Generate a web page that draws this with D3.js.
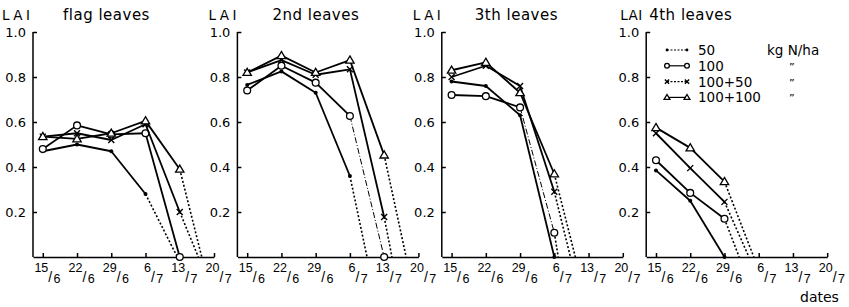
<!DOCTYPE html>
<html>
<head>
<meta charset="utf-8">
<script src="https://cdn.jsdelivr.net/npm/d3@7"></script>
<style>
  body { margin: 0; background: #fff; }
  svg { font-family: "DejaVu Sans", sans-serif; }
</style>
</head>
<body>
<svg id="chart" width="849" height="307"></svg>
<script>
// dates of sampling and the axis ticks
const dates = ["15/6", "22/6", "29/6", "6/7", "13/7"];
const tickDates = ["15/6", "22/6", "29/6", "6/7", "13/7", "20/7"];
const yTicks = [0.2, 0.4, 0.6, 0.8, 1.0];
const treatments = ["50", "100", "100+50", "100+100"];
const panelTitles = ["flag leaves", "2nd leaves", "3th leaves", "4th leaves"];

// LAI per treatment (order: 50, 100, 100+50, 100+100)
const flag50 = [0.47, 0.5, 0.47, 0.28];
const flag100 = [0.48, 0.585, 0.545, 0.55, 0];
const flag100p50 = [0.535, 0.55, 0.52, 0.59, 0.2];
const flag100p100 = [0.535, 0.525, 0.55, 0.605, 0.39];
const flagZero = ["12.5/7", null, "16.8/7", "17.5/7"];

const second50 = [0.765, 0.825, 0.73, 0.36];
const second100 = [0.74, 0.85, 0.775, 0.627, 0];
const second100p50 = [0.82, 0.875, 0.81, 0.834, 0.178];
const second100p100 = [0.82, 0.895, 0.82, 0.875, 0.453];
const secondZero = ["9.5/7", null, "14.6/7", "17.5/7"];

const third50 = [0.78, 0.76, 0.63, 0];
const third100 = [0.72, 0.715, 0.665, 0.108];
const third100p50 = [0.8, 0.85, 0.76, 0.29];
const third100p100 = [0.83, 0.865, 0.73, 0.369];
const thirdZero = [null, "6.8/7", "9.3/7", "10.3/7"];

const fourth50 = [0.385, 0.25, 0];
const fourth100 = [0.43, 0.285, 0.17];
const fourth100p50 = [0.55, 0.395, 0.245];
const fourth100p100 = [0.575, 0.485, 0.335];
const fourthZero = [null, "2/7", "4/7", "5/7"];

const panels = [
  { series: [flag50, flag100, flag100p50, flag100p100], zero: flagZero },
  { series: [second50, second100, second100p50, second100p100], zero: secondZero },
  { series: [third50, third100, third100p50, third100p100], zero: thirdZero },
  { series: [fourth50, fourth100, fourth100p50, fourth100p100], zero: fourthZero },
];

// segments drawn thin dash-dot in the original: [panel, treatment, segment index]
const thinSegments = [[1, 1, 3], [2, 1, 2]];

const toDate = (s) => {
  const [d, m] = s.split("/").map(parseFloat);
  return new Date(new Date(1980, m - 1, 1).getTime() + (d - 1) * 864e5);
};

const svg = d3.select("#chart");
const axisX0 = 33;
const panelStep = 204.4;
const panelW = 181;
const titleOffset = [30, 35, 33, 3];
const lblOffset = [-31, -29, -29, -26];

const y = d3.scaleLinear().domain([0, 1]).range([257, 32]);

const marker = (g, type, cx, cy, k = 1) => {
  if (type === 0) {
    g.append("circle").attr("cx", cx).attr("cy", cy).attr("r", 2 * k).attr("fill", "#000");
  } else if (type === 1) {
    g.append("circle").attr("cx", cx).attr("cy", cy).attr("r", 3.4 * k)
      .attr("fill", "#fff").attr("stroke", "#000").attr("stroke-width", 1.3);
  } else if (type === 2) {
    const s = 3 * k;
    g.append("path")
      .attr("d", `M${cx - s},${cy - s}L${cx + s},${cy + s}M${cx - s},${cy + s}L${cx + s},${cy - s}`)
      .attr("stroke", "#000").attr("stroke-width", 1.4);
  } else {
    const s = 4.2 * k;
    g.append("path")
      .attr("d", `M${cx},${cy - s}L${cx + s},${cy + s * 0.7}L${cx - s},${cy + s * 0.7}Z`)
      .attr("fill", "#fff").attr("stroke", "#000").attr("stroke-width", 1.3);
  }
};

panels.forEach((p, pi) => {
  const x0 = axisX0 + pi * panelStep;
  const x = d3.scaleTime().domain([toDate("13/6"), toDate("20/7")]).range([x0, x0 + panelW]);
  const g = svg.append("g");

  // axes
  const xAxis = d3.axisBottom(x)
    .tickValues(tickDates.map(toDate))
    .tickSize(-4)
    .tickSizeOuter(0)
    .tickFormat("");
  const gx = g.append("g").attr("transform", `translate(0,${y(0)})`).call(xAxis);
  gx.selectAll("path, line").attr("stroke", "#000").attr("stroke-width", 1.5);

  // fraction style date labels, e.g. 15/6 with 15 raised and 6 lowered
  gx.selectAll(".tick").each(function (d, i) {
    const [num, den] = tickDates[i].split("/");
    const t = d3.select(this).append("text").attr("fill", "#000").attr("font-size", 12.5);
    t.append("tspan").attr("x", 5).attr("y", 15).attr("text-anchor", "end").text(num);
    t.append("tspan").attr("x", 5).attr("y", 25).attr("text-anchor", "start")
      .attr("font-size", 14).text("/");
    t.append("tspan").attr("x", 10.3).attr("y", 26).attr("text-anchor", "start").text(den);
  });

  const yAxis = d3.axisLeft(y)
    .tickValues(yTicks)
    .tickSize(-4)
    .tickSizeOuter(0)
    .tickPadding(7)
    .tickFormat(d3.format(".1f"));
  const gy = g.append("g").attr("transform", `translate(${x0},0)`).call(yAxis);
  gy.select(".domain").attr("d", `M0,${y(0)}V${y(1)}`);
  gy.selectAll("path, line").attr("stroke", "#000").attr("stroke-width", 1.5);
  gy.selectAll("text").attr("font-size", 13).attr("fill", "#000").attr("font-family", "DejaVu Sans");

  // headers
  g.append("text").attr("x", x0 + lblOffset[pi]).attr("y", 20)
    .attr("font-size", 13.5).attr("letter-spacing", pi === 3 ? 0.5 : 3.5).text("LAI");
  g.append("text").attr("x", x0 + titleOffset[pi]).attr("y", 20)
    .attr("font-size", 15).attr("letter-spacing", 0.5).text(panelTitles[pi]);

  const line = d3.line().x((d) => x(d.date)).y((d) => y(d.v));

  p.series.forEach((vals, si) => {
    const pts = vals.map((v, i) => ({ date: toDate(dates[i]), v }));
    // measured segments
    for (let i = 0; i < pts.length - 1; i++) {
      const thin = thinSegments.some((s) => s[0] === pi && s[1] === si && s[2] === i);
      g.append("path")
        .datum([pts[i], pts[i + 1]])
        .attr("d", line)
        .attr("fill", "none")
        .attr("stroke", "#000")
        .attr("stroke-width", thin ? 1 : 1.8)
        .attr("stroke-dasharray", thin ? "6,2,1,2" : null);
    }
    // extrapolated drop to zero
    if (p.zero[si]) {
      g.append("path")
        .datum([pts[pts.length - 1], { date: toDate(p.zero[si]), v: 0 }])
        .attr("d", line)
        .attr("fill", "none")
        .attr("stroke", "#000")
        .attr("stroke-width", 1.6)
        .attr("stroke-dasharray", "2,2");
    }
    pts.forEach((d) => marker(g, si, x(d.date), y(d.v)));
  });
});

// legend
const legend = svg.append("g").attr("transform", "translate(667,50)");
treatments.forEach((t, i) => {
  const row = legend.append("g").attr("transform", `translate(0,${i * 15.8})`);
  row.append("line").attr("x1", 0).attr("x2", 20).attr("y1", 0).attr("y2", 0)
    .attr("stroke", "#000").attr("stroke-width", 1.2)
    .attr("stroke-dasharray", i === 0 || i === 2 ? "2,1.5" : null);
  marker(row, i, 0, 0, 0.7);
  marker(row, i, 20, 0, 0.7);
  row.append("text").attr("x", 31).attr("y", 5).attr("font-size", 13.5).text(t);
  row.append("text").attr("x", i === 0 ? 100 : 122).attr("y", 5)
    .attr("font-size", i === 0 ? 13.5 : 11)
    .text(i === 0 ? "kg N/ha" : "\u201D");
});

svg.append("text").attr("x", 800).attr("y", 302).attr("font-size", 14).text("dates");
</script>
</body>
</html>
